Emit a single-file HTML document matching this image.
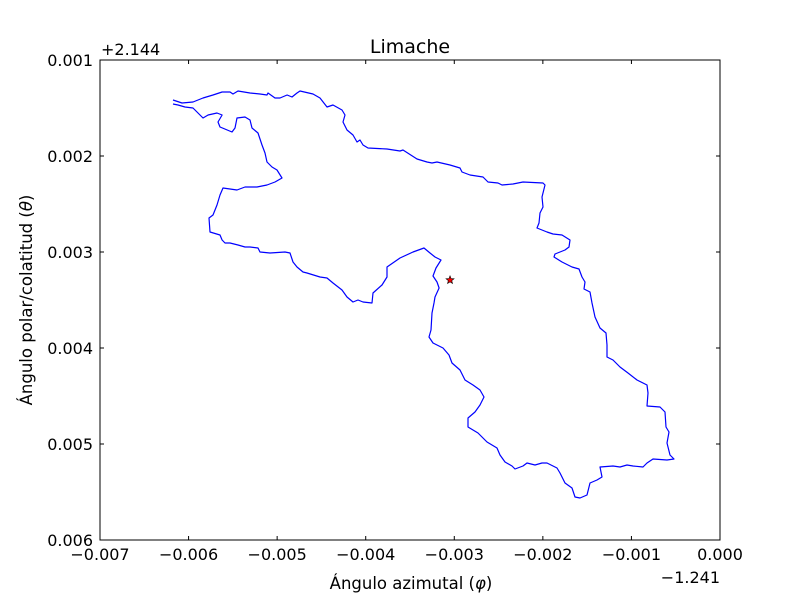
<!DOCTYPE html>
<html><head><meta charset="utf-8">
<style>
html,body{margin:0;padding:0;background:#fff;}
svg{display:block;font-family:"DejaVu Sans","Liberation Sans",sans-serif;}
</style></head>
<body>
<svg id="chart" width="800" height="600" viewBox="0 0 800 600">
<rect x="0" y="0" width="800" height="600" fill="#fff"/>
<g id="plot"></g>
</svg>
<script>
// data in units of 1e-3 (offset x -1.241, y +2.144)
const boundaryX = [-6.176,-6.074,-5.950,-5.837,-5.724,-5.622,-5.532,-5.498,-5.442,-5.306,-5.193,-5.114,-5.103,-5.024,-4.968,-4.888,-4.832,-4.776,-4.742,-4.595,-4.516,-4.437,-4.369,-4.268,-4.234,-4.256,-4.211,-4.143,-4.098,-4.064,-4.031,-3.974,-3.760,-3.613,-3.579,-3.421,-3.308,-3.252,-3.195,-3.048,-2.935,-2.913,-2.823,-2.676,-2.619,-2.506,-2.461,-2.337,-2.224,-1.998,-1.976,-2.010,-1.998,-2.032,-2.043,-2.066,-1.953,-1.885,-1.784,-1.694,-1.705,-1.750,-1.863,-1.874,-1.784,-1.671,-1.592,-1.558,-1.524,-1.535,-1.468,-1.445,-1.411,-1.355,-1.287,-1.276,-1.276,-1.208,-1.129,-1.039,-0.937,-0.824,-0.813,-0.824,-0.677,-0.621,-0.610,-0.576,-0.598,-0.565,-0.519,-0.598,-0.756,-0.824,-0.869,-0.982,-1.050,-1.129,-1.208,-1.355,-1.332,-1.389,-1.468,-1.502,-1.581,-1.637,-1.671,-1.750,-1.806,-1.840,-1.953,-2.010,-2.089,-2.179,-2.224,-2.315,-2.348,-2.427,-2.484,-2.518,-2.631,-2.732,-2.845,-2.845,-2.766,-2.710,-2.664,-2.710,-2.789,-2.879,-2.935,-3.026,-3.060,-3.127,-3.240,-3.285,-3.263,-3.252,-3.229,-3.218,-3.172,-3.195,-3.240,-3.206,-3.150,-3.218,-3.274,-3.342,-3.466,-3.613,-3.760,-3.760,-3.816,-3.918,-3.929,-4.031,-4.087,-4.143,-4.211,-4.268,-4.369,-4.437,-4.516,-4.663,-4.708,-4.776,-4.821,-4.855,-4.911,-5.081,-5.193,-5.216,-5.306,-5.363,-5.442,-5.532,-5.589,-5.622,-5.645,-5.758,-5.769,-5.724,-5.679,-5.645,-5.611,-5.453,-5.363,-5.227,-5.114,-5.024,-4.945,-5.002,-5.058,-5.114,-5.137,-5.171,-5.216,-5.284,-5.306,-5.363,-5.453,-5.476,-5.510,-5.645,-5.668,-5.622,-5.679,-5.780,-5.837,-5.950,-6.040,-6.119,-6.176];
const boundaryY = [1.417,1.448,1.438,1.396,1.365,1.333,1.333,1.354,1.323,1.344,1.354,1.365,1.344,1.396,1.396,1.365,1.385,1.344,1.323,1.354,1.396,1.490,1.469,1.521,1.573,1.646,1.729,1.781,1.854,1.833,1.885,1.917,1.927,1.948,1.938,2.031,2.063,2.073,2.063,2.094,2.125,2.167,2.198,2.219,2.271,2.281,2.302,2.292,2.271,2.281,2.302,2.427,2.531,2.594,2.698,2.750,2.792,2.813,2.823,2.875,2.948,2.979,3.021,3.052,3.104,3.156,3.177,3.260,3.313,3.385,3.417,3.531,3.677,3.792,3.844,3.969,4.094,4.125,4.198,4.260,4.333,4.385,4.469,4.604,4.615,4.667,4.823,4.875,4.990,5.115,5.156,5.167,5.156,5.198,5.240,5.229,5.219,5.240,5.229,5.240,5.344,5.375,5.406,5.531,5.563,5.552,5.458,5.406,5.302,5.250,5.198,5.198,5.219,5.198,5.229,5.260,5.229,5.188,5.115,5.042,4.979,4.885,4.823,4.729,4.667,4.594,4.510,4.438,4.385,4.333,4.229,4.156,4.073,4.000,3.948,3.885,3.813,3.635,3.531,3.469,3.375,3.313,3.250,3.167,3.083,3.052,3.010,2.958,3.000,3.063,3.156,3.260,3.344,3.427,3.531,3.521,3.500,3.521,3.469,3.396,3.323,3.271,3.260,3.219,3.208,3.156,3.104,3.010,3.000,3.010,3.000,2.958,2.948,2.948,2.927,2.906,2.906,2.875,2.823,2.792,2.646,2.615,2.510,2.406,2.333,2.354,2.323,2.323,2.302,2.271,2.229,2.146,2.115,2.063,1.969,1.885,1.760,1.708,1.625,1.594,1.604,1.708,1.750,1.698,1.646,1.573,1.552,1.573,1.604,1.500,1.490,1.469,1.458];
const centerX = [-3.048];
const centerY = [3.292];
const xTicks = [-7,-6,-5,-4,-3,-2,-1,0];
const xTickLabels = ["\u22120.007","\u22120.006","\u22120.005","\u22120.004","\u22120.003","\u22120.002","\u22120.001","0.000"];
const yTicks = [1,2,3,4,5,6];
const yTickLabels = ["0.001","0.002","0.003","0.004","0.005","0.006"];

const L=100,R=720,T=60,B=540;
const xMin=-7,xMax=0,yMin=1,yMax=6;
const sx=v=>L+(v-xMin)/(xMax-xMin)*(R-L);
const sy=v=>T+(v-yMin)/(yMax-yMin)*(B-T);
const NS="http://www.w3.org/2000/svg";
const g=document.getElementById('plot');
function mk(tag,attrs,parent){const e=document.createElementNS(NS,tag);for(const k in attrs)e.setAttribute(k,attrs[k]);(parent||g).appendChild(e);return e;}

let d='';
for(let i=0;i<boundaryX.length;i++){d+=(i?'L':'M')+sx(boundaryX[i]).toFixed(1)+','+sy(boundaryY[i]).toFixed(1);}
const line=mk('path',{d:d,fill:'none',stroke:'#0000ff','stroke-width':1.2,'stroke-linejoin':'round'});



for(let i=0;i<centerX.length;i++){
  const cx=sx(centerX[i]),cy=sy(centerY[i]);let p='';
  for(let k=0;k<10;k++){const r=k%2?1.8:4.2;const a=-Math.PI/2+k*Math.PI/5;p+=(k?'L':'M')+(cx+r*Math.cos(a)).toFixed(2)+','+(cy+r*Math.sin(a)).toFixed(2);}
  const s=mk('path',{d:p+'Z',fill:'#ff0000',stroke:'#000','stroke-width':0.6});
  
  
}

const fr=mk('rect',{x:L,y:T,width:R-L,height:B-T,fill:'none',stroke:'#000','stroke-width':1});



xTicks.forEach((v,i)=>{
  const x=sx(v);
  mk('line',{x1:x,y1:B,x2:x,y2:B-4,stroke:'#000'});
  mk('line',{x1:x,y1:T,x2:x,y2:T+4,stroke:'#000'});
  const t=mk('text',{x:x,y:B+20,'font-size':16,'text-anchor':'middle',fill:'#000'});
  t.textContent=xTickLabels[i];
  
  
});
yTicks.forEach((v,i)=>{
  const y=sy(v);
  mk('line',{x1:L,y1:y,x2:L+4,y2:y,stroke:'#000'});
  mk('line',{x1:R,y1:y,x2:R-4,y2:y,stroke:'#000'});
  const t=mk('text',{x:L-7,y:y+6,'font-size':16,'text-anchor':'end',fill:'#000'});
  t.textContent=yTickLabels[i];
  
  
});
</script>
<svg style="position:absolute;left:0;top:0" width="800" height="600">
<text x="410" y="53" font-size="19" text-anchor="middle" font-family="DejaVu Sans, Liberation Sans, sans-serif">Limache</text>
<text x="101" y="55" font-size="16" font-family="DejaVu Sans, Liberation Sans, sans-serif">+2.144</text>
<text x="720" y="583" font-size="16" text-anchor="end" font-family="DejaVu Sans, Liberation Sans, sans-serif">−1.241</text>
<text x="411" y="589" font-size="16.5" text-anchor="middle" font-family="DejaVu Sans, Liberation Sans, sans-serif">Ángulo azimutal (<tspan font-style="italic">φ</tspan>)</text>
<text transform="translate(32,300) rotate(-90)" font-size="16.5" text-anchor="middle" font-family="DejaVu Sans, Liberation Sans, sans-serif">Ángulo polar/colatitud (<tspan font-style="italic">θ</tspan>)</text>
</svg>
</body></html>
